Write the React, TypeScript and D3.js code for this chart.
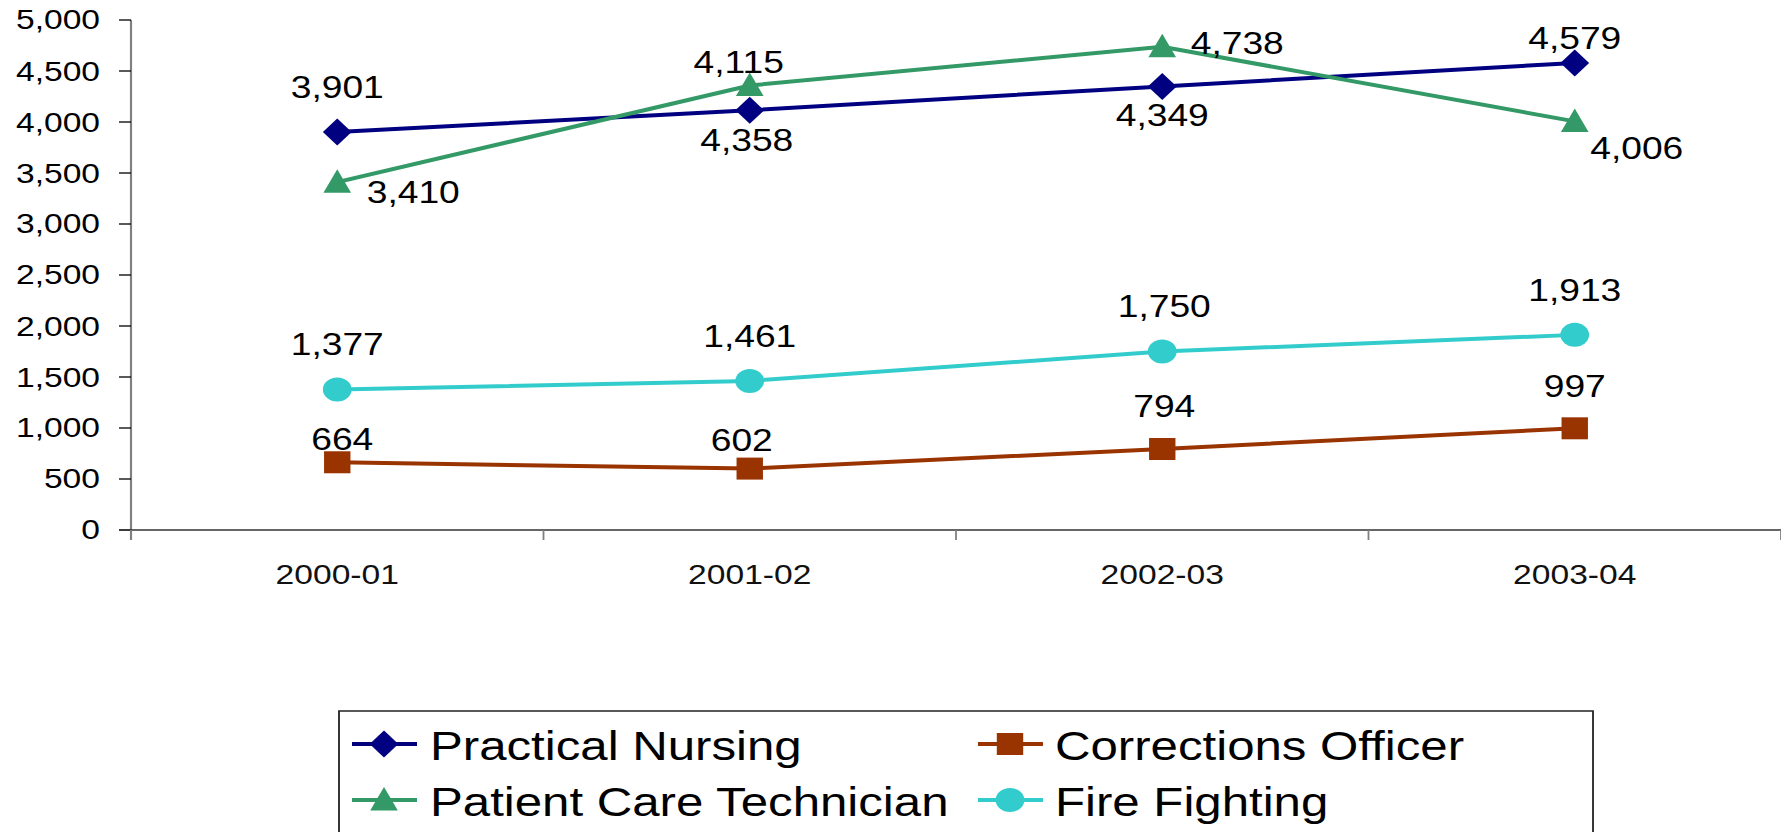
import React from "react";
import * as d3 from "d3";

const categories = ["2000-01", "2001-02", "2002-03", "2003-04"];
const practicalNursing = [3901, 4115, 4349, 4579];
const patientCareTechnician = [3410, 4358, 4738, 4006];
const correctionsOfficer = [664, 602, 794, 997];
const fireFighting = [1377, 1461, 1750, 1913];
const practicalNursingLabels = ["3,901", "4,358", "4,349", "4,579"];
const patientCareLabels = ["3,410", "4,115", "4,738", "4,006"];
const correctionsLabels = ["664", "602", "794", "997"];
const fireFightingLabels = ["1,377", "1,461", "1,750", "1,913"];
const yTicks = [0, 500, 1000, 1500, 2000, 2500, 3000, 3500, 4000, 4500, 5000];

// layout (full-pixel units; x later divided by horizontal stretch)
const W = 1781;
const H = 832;
const SX = 1.2; // horizontal stretch of the original picture
const VW = W / SX;
const FONT = "Arial, 'Liberation Sans', Helvetica, sans-serif";

type Marker = "diamond" | "square" | "triangle" | "circle";
interface Series {
  name: string;
  values: number[];
  labels: string[];
  color: string;
  marker: Marker;
  offsets: [number, number][]; // label offsets (full px)
}

const series: Series[] = [
  {
    name: "Practical Nursing",
    values: practicalNursing,
    labels: practicalNursingLabels,
    color: "#000080",
    marker: "diamond",
    offsets: [[0, -45], [-3, 30], [0, 29], [0, -25]],
  },
  {
    name: "Corrections Officer",
    values: correctionsOfficer,
    labels: correctionsLabels,
    color: "#993300",
    marker: "square",
    offsets: [[5, -23], [-8, -28], [2, -43], [0, -42]],
  },
  {
    name: "Patient Care Technician",
    values: patientCareTechnician,
    labels: patientCareLabels,
    color: "#339966",
    marker: "triangle",
    offsets: [[76, 10], [-11, -23], [75, -4], [62, 27]],
  },
  {
    name: "Fire Fighting",
    values: fireFighting,
    labels: fireFightingLabels,
    color: "#33CCCC",
    marker: "circle",
    offsets: [[0, -45], [0, -45], [2, -45], [0, -45]],
  },
];

function markerPath(m: Marker, x: number, y: number): string {
  switch (m) {
    case "diamond":
      return `M${x},${y - 13.5}L${x + 12},${y}L${x},${y + 13.5}L${x - 12},${y}Z`;
    case "square":
      return `M${x - 11},${y - 11}h22v22h-22Z`;
    case "triangle":
      return `M${x},${y - 13}L${x + 11.5},${y + 10.5}L${x - 11.5},${y + 10.5}Z`;
    case "circle":
      return `M${x - 12},${y}a12,12 0 1,0 24,0a12,12 0 1,0 -24,0Z`;
  }
}

export default function App() {
  const axisX = 131 / SX;
  const right = VW;
  const x = d3.scaleBand<string>().domain(categories).range([axisX, right]).padding(0);
  const y = d3.scaleLinear().domain([0, 5000]).range([530, 20]);
  const cx = (c: string) => (x(c) ?? 0) + x.bandwidth() / 2;
  const line = d3
    .line<number>()
    .x((_, i) => cx(categories[i]))
    .y((v) => y(v));

  const legendItems = [
    { s: series[0], lx: 352 / SX, tx: 430 / SX, ty: 760 },
    { s: series[1], lx: 978 / SX, tx: 1055 / SX, ty: 760 },
    { s: series[2], lx: 352 / SX, tx: 430 / SX, ty: 816 },
    { s: series[3], lx: 978 / SX, tx: 1055 / SX, ty: 816 },
  ];
  const boundaries = [...categories.map((c) => x(c) ?? 0), right];

  return (
    <div style={{ position: "absolute", left: 0, top: 0, width: W, height: H, background: "#fff" }}>
      <svg
        width={W}
        height={H}
        viewBox={`0 0 ${VW} ${H}`}
        preserveAspectRatio="none"
        style={{ display: "block" }}
        fontFamily={FONT}
      >
        <rect x={0} y={0} width={VW} height={H} fill="#fff" />
        {/* y axis */}
        <line x1={axisX} x2={axisX} y1={y(5000)} y2={540} stroke="#808080" strokeWidth={1.8} />
        {yTicks.map((t) => (
          <g key={t}>
            <line x1={axisX - 10} x2={axisX} y1={y(t)} y2={y(t)} stroke="#000" strokeWidth={1.3} />
            <text
              x={100 / SX}
              y={y(t)}
              textAnchor="end"
              dominantBaseline="central"
              fontSize={28}
              fill="#000"
            >
              {d3.format(",")(t)}
            </text>
          </g>
        ))}
        {/* x axis */}
        <line x1={axisX - 10} x2={right} y1={y(0)} y2={y(0)} stroke="#333" strokeWidth={1.4} />
        {boundaries.map((b, i) => (
          <line key={i} x1={b} x2={b} y1={y(0)} y2={540} stroke="#808080" strokeWidth={1.5} />
        ))}
        {categories.map((c) => (
          <text
            key={c}
            x={cx(c)}
            y={575}
            textAnchor="middle"
            dominantBaseline="central"
            fontSize={28}
            fill="#111"
          >
            {c}
          </text>
        ))}
        {/* series lines */}
        {series.map((s) => (
          <path key={s.name} d={line(s.values) ?? ""} fill="none" stroke={s.color} strokeWidth={4} />
        ))}
        {/* markers */}
        {series.map((s) =>
          s.values.map((v, i) => (
            <path key={s.name + i} d={markerPath(s.marker, cx(categories[i]), y(v))} fill={s.color} />
          ))
        )}
        {/* data labels */}
        {series.map((s) =>
          s.values.map((v, i) => (
            <text
              key={"l" + s.name + i}
              x={cx(categories[i]) + s.offsets[i][0] / SX}
              y={y(v) + s.offsets[i][1]}
              textAnchor="middle"
              dominantBaseline="central"
              fontSize={31}
              fill="#000"
            >
              {s.labels[i]}
            </text>
          ))
        )}
        {/* legend */}
        <rect x={339 / SX} y={711} width={(1593 - 339) / SX} height={200} fill="none" stroke="#222" strokeWidth={1.5} />
        {legendItems.map(({ s, lx, tx, ty }) => {
          const my = ty - 16;
          const mx = lx + 32 / SX;
          return (
            <g key={"lg" + s.name}>
              <line x1={lx} x2={lx + 65 / SX} y1={my} y2={my} stroke={s.color} strokeWidth={4} />
              <path d={markerPath(s.marker, mx, my)} fill={s.color} />
              <text x={tx} y={ty} fontSize={41} fill="#000">
                {s.name}
              </text>
            </g>
          );
        })}
      </svg>
    </div>
  );
}
